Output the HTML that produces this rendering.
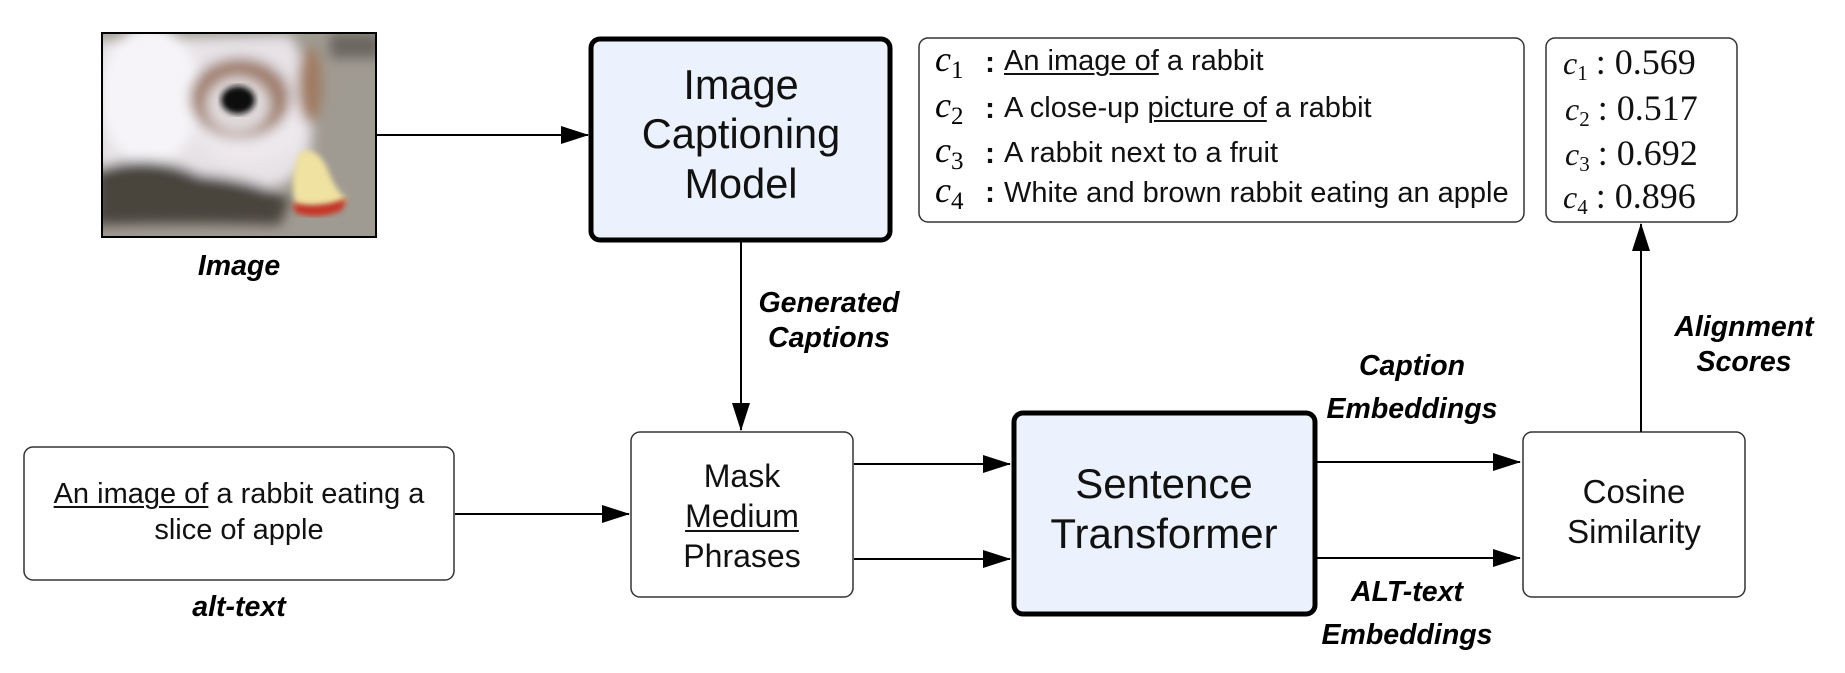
<!DOCTYPE html>
<html><head><meta charset="utf-8"><style>
html,body{margin:0;padding:0;background:#fff;width:1845px;height:673px;overflow:hidden;position:relative}
svg{display:block;position:absolute;left:0;top:0}
.s{font-family:"Liberation Sans",Arial,sans-serif}
.r{font-family:"Liberation Serif",serif}
.lbl{font-family:"Liberation Sans",Arial,sans-serif;font-weight:bold;font-style:italic;font-size:28.5px}
.t{position:absolute;font-family:"Liberation Sans",Arial,sans-serif;color:#111;line-height:1.15;white-space:nowrap}
.c{text-align:center;transform:translateX(-50%)}
u{text-decoration-thickness:1.5px;text-underline-offset:3px}
</style></head><body>
<svg width="1845" height="673" viewBox="0 0 1845 673" xmlns="http://www.w3.org/2000/svg">
<defs>
<marker id="a" markerWidth="28" markerHeight="18" refX="27" refY="9" orient="auto" markerUnits="userSpaceOnUse"><path d="M0,0 L28,9 L0,18 z" fill="#000"/></marker>
<filter id="bl" x="-20%" y="-20%" width="140%" height="140%"><feGaussianBlur stdDeviation="6"/></filter>
<filter id="bl2"><feGaussianBlur stdDeviation="3"/></filter>
<clipPath id="cp"><rect x="102" y="33" width="274" height="204"/></clipPath>
</defs>

<g clip-path="url(#cp)">
<rect x="102" y="33" width="274" height="204" fill="#a09b92"/>
<g filter="url(#bl)">
<path d="M95,40 L290,35 Q320,80 310,150 Q300,185 260,190 L180,175 Q130,200 95,190 Z" fill="#e6e2e6"/>
<ellipse cx="150" cy="95" rx="50" ry="70" fill="#f6f4f8"/>
<ellipse cx="250" cy="125" rx="55" ry="40" fill="#ece8ec"/>
<path d="M95,170 Q150,150 200,175 Q260,180 290,200 L280,225 Q200,222 95,225 Z" fill="#4a453c"/>
<ellipse cx="240" cy="98" rx="50" ry="40" fill="#a07f6e"/>
<ellipse cx="238" cy="105" rx="32" ry="28" fill="#e0d9da"/>
<ellipse cx="310" cy="85" rx="12" ry="38" fill="#a07a60"/>
<rect x="330" y="33" width="50" height="25" fill="#6a6660"/>
</g>
<ellipse cx="238" cy="100" rx="17" ry="14" fill="#111" filter="url(#bl2)"/>
<path d="M300,152 Q318,146 328,170 Q336,192 348,200 Q322,210 296,205 Q288,178 300,152 Z" fill="#f0e2a0" filter="url(#bl2)"/>
<path d="M292,203 Q320,210 347,198 L342,210 Q320,220 296,213 Z" fill="#c83020" filter="url(#bl2)"/>
</g>
<rect x="102" y="33" width="274" height="204" fill="none" stroke="#000" stroke-width="2"/>
<text x="239" y="275" text-anchor="middle" class="lbl">Image</text>

<rect x="591" y="39" width="299" height="201" rx="9" fill="#ebf2fd" stroke="#000" stroke-width="5"/>
<text class="s" font-size="41.5" text-anchor="middle" fill="#111"><tspan x="741" y="99">Image</tspan><tspan x="741" y="148">Captioning</tspan><tspan x="741" y="198">Model</tspan></text>
<line x1="376" y1="135" x2="588" y2="135" stroke="#000" stroke-width="2" marker-end="url(#a)"/>

<line x1="741" y1="242" x2="741" y2="430" stroke="#000" stroke-width="2" marker-end="url(#a)"/>
<text class="lbl" text-anchor="middle"><tspan x="829" y="312">Generated</tspan><tspan x="829" y="347">Captions</tspan></text>

<rect x="919" y="38" width="605" height="184" rx="9" fill="#fff" stroke="#333" stroke-width="1.5"/>
<g class="r" font-style="italic" font-size="36">
<text x="935" y="71">c<tspan font-style="normal" font-size="25" dy="7">1</tspan></text>
<text x="935" y="117">c<tspan font-style="normal" font-size="25" dy="7">2</tspan></text>
<text x="935" y="162">c<tspan font-style="normal" font-size="25" dy="7">3</tspan></text>
<text x="935" y="202">c<tspan font-style="normal" font-size="25" dy="7">4</tspan></text>
</g>
<g class="s" font-size="30" font-weight="bold" fill="#111">
<text x="985" y="72">:</text><text x="985" y="118">:</text><text x="985" y="163">:</text><text x="985" y="202">:</text>
</g>

<rect x="1546" y="38" width="191" height="184" rx="9" fill="#fff" stroke="#333" stroke-width="1.5"/>
<g class="r" font-size="36" fill="#111">
<text x="1563" y="74"><tspan font-style="italic" font-size="32">c</tspan><tspan font-size="21" dy="6">1</tspan><tspan dy="-6" dx="8">: 0.569</tspan></text>
<text x="1565" y="120"><tspan font-style="italic" font-size="32">c</tspan><tspan font-size="21" dy="6">2</tspan><tspan dy="-6" dx="8">: 0.517</tspan></text>
<text x="1565" y="165"><tspan font-style="italic" font-size="32">c</tspan><tspan font-size="21" dy="6">3</tspan><tspan dy="-6" dx="8">: 0.692</tspan></text>
<text x="1563" y="208"><tspan font-style="italic" font-size="32">c</tspan><tspan font-size="21" dy="6">4</tspan><tspan dy="-6" dx="8">: 0.896</tspan></text>
</g>

<rect x="24" y="447" width="430" height="133" rx="9" fill="#fff" stroke="#333" stroke-width="1.5"/>
<text x="239" y="616" text-anchor="middle" class="lbl">alt-text</text>
<line x1="455" y1="514" x2="629" y2="514" stroke="#000" stroke-width="2" marker-end="url(#a)"/>

<rect x="631" y="432" width="222" height="165" rx="9" fill="#fff" stroke="#333" stroke-width="1.5"/>
<line x1="854" y1="464" x2="1010" y2="464" stroke="#000" stroke-width="2" marker-end="url(#a)"/>
<line x1="854" y1="559" x2="1010" y2="559" stroke="#000" stroke-width="2" marker-end="url(#a)"/>

<rect x="1014" y="413" width="301" height="201" rx="9" fill="#ebf2fd" stroke="#000" stroke-width="5"/>
<text class="s" font-size="42" text-anchor="middle" fill="#111"><tspan x="1164" y="498">Sentence</tspan><tspan x="1164" y="548">Transformer</tspan></text>
<line x1="1317" y1="462" x2="1520" y2="462" stroke="#000" stroke-width="2" marker-end="url(#a)"/>
<line x1="1317" y1="558" x2="1520" y2="558" stroke="#000" stroke-width="2" marker-end="url(#a)"/>
<text class="lbl" text-anchor="middle"><tspan x="1412" y="375">Caption</tspan><tspan x="1412" y="418">Embeddings</tspan></text>
<text class="lbl" text-anchor="middle"><tspan x="1407" y="601">ALT-text</tspan><tspan x="1407" y="644">Embeddings</tspan></text>

<rect x="1523" y="432" width="222" height="165" rx="9" fill="#fff" stroke="#333" stroke-width="1.5"/>
<text class="s" font-size="33" text-anchor="middle" fill="#111"><tspan x="1634" y="503">Cosine</tspan><tspan x="1634" y="543">Similarity</tspan></text>
<line x1="1641" y1="432" x2="1641" y2="224" stroke="#000" stroke-width="2" marker-end="url(#a)"/>
<text class="lbl" text-anchor="middle"><tspan x="1744" y="336">Alignment</tspan><tspan x="1744" y="371">Scores</tspan></text>
</svg>

<div class="t" style="left:1004px;top:45px;font-size:29px"><u>An image of</u> a rabbit</div>
<div class="t" style="left:1004px;top:92px;font-size:29px">A close-up <u>picture of</u> a rabbit</div>
<div class="t" style="left:1004px;top:137px;font-size:29px">A rabbit next to a fruit</div>
<div class="t" style="left:1004px;top:177px;font-size:29px">White and brown rabbit eating an apple</div>

<div class="t c" style="left:239px;top:476px;font-size:29px;line-height:36px"><u>An image of</u> a rabbit eating a<br>slice of apple</div>
<div class="t c" style="left:742px;top:456px;font-size:32px;line-height:40px">Mask<br><u>Medium</u><br>Phrases</div>
</body></html>
